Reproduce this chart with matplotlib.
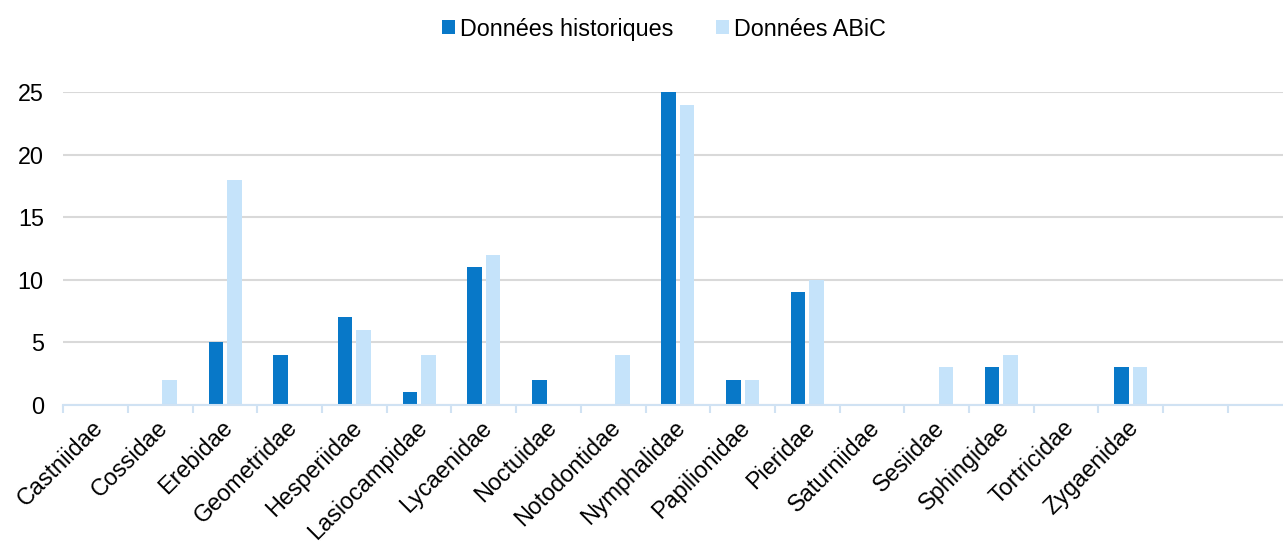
import matplotlib
matplotlib.use("Agg")
import matplotlib.pyplot as plt
import matplotlib.transforms as mtransforms
import numpy as np

families = ['Castniidae', 'Cossidae', 'Erebidae', 'Geometridae', 'Hesperiidae',
            'Lasiocampidae', 'Lycaenidae', 'Noctuidae', 'Notodontidae', 'Nymphalidae',
            'Papilionidae', 'Pieridae', 'Saturniidae', 'Sesiidae', 'Sphingidae',
            'Tortricidae', 'Zygaenidae']
historiques = [0, 0, 5, 4, 7, 1, 11, 2, 0, 25, 2, 9, 0, 0, 3, 0, 3]
abic = [0, 2, 18, 0, 6, 4, 12, 0, 4, 24, 2, 10, 0, 3, 4, 0, 3]
n_slots = 19  # two empty slots after the last family

dark = '#0878c8'
light = '#c5e3fa'
fs = 16.8

plt.rcParams['font.family'] = ['Liberation Sans', 'DejaVu Sans']

fig = plt.figure(figsize=(12.83, 5.45), dpi=100)
ax = fig.add_axes([63.3 / 1283, 1 - 405 / 545, (19 * 64.7) / 1283, (405 - 92) / 545])

x = np.arange(len(families)) + 0.5
w = 0.224
ax.bar(x - 0.143, historiques, w, color=dark, label='Données historiques', zorder=3)
ax.bar(x + 0.143, abic, w, color=light, label='Données ABiC', zorder=3)

ax.set_xlim(0, n_slots)
ax.set_ylim(0, 25)
ax.set_yticks(range(0, 26, 5))
ax.yaxis.grid(True, color='#d9d9d9', linewidth=1.5, zorder=0)
ax.tick_params(axis='y', length=0, pad=14, labelsize=fs)

ax.set_xticks(x)
ax.set_xticklabels(families, rotation=45, ha='right', rotation_mode='anchor', fontsize=fs)
ax.set_xticks(np.arange(0, n_slots + 1), minor=True)
ax.tick_params(axis='x', which='major', length=0, pad=8)
ax.tick_params(axis='x', which='minor', length=6, width=1.5, color='#d0e2f3')

# nudge the slanted family names a little to the left
shift = mtransforms.ScaledTranslation(-4 / 100, 0, fig.dpi_scale_trans)
for lbl in ax.get_xticklabels():
    lbl.set_transform(lbl.get_transform() + shift)

for s in ['top', 'right', 'left']:
    ax.spines[s].set_visible(False)
ax.spines['bottom'].set_color('#d0e2f3')
ax.spines['bottom'].set_linewidth(1.5)
ax.spines['bottom'].set_zorder(4)

fig.legend(loc='center', bbox_to_anchor=(664 / 1283, 1 - 29 / 545), ncol=2, frameon=False,
           fontsize=fs, handlelength=0.56, handleheight=0.56, handletextpad=0.2,
           columnspacing=1.85)

fig.savefig('out.png', dpi=100)
